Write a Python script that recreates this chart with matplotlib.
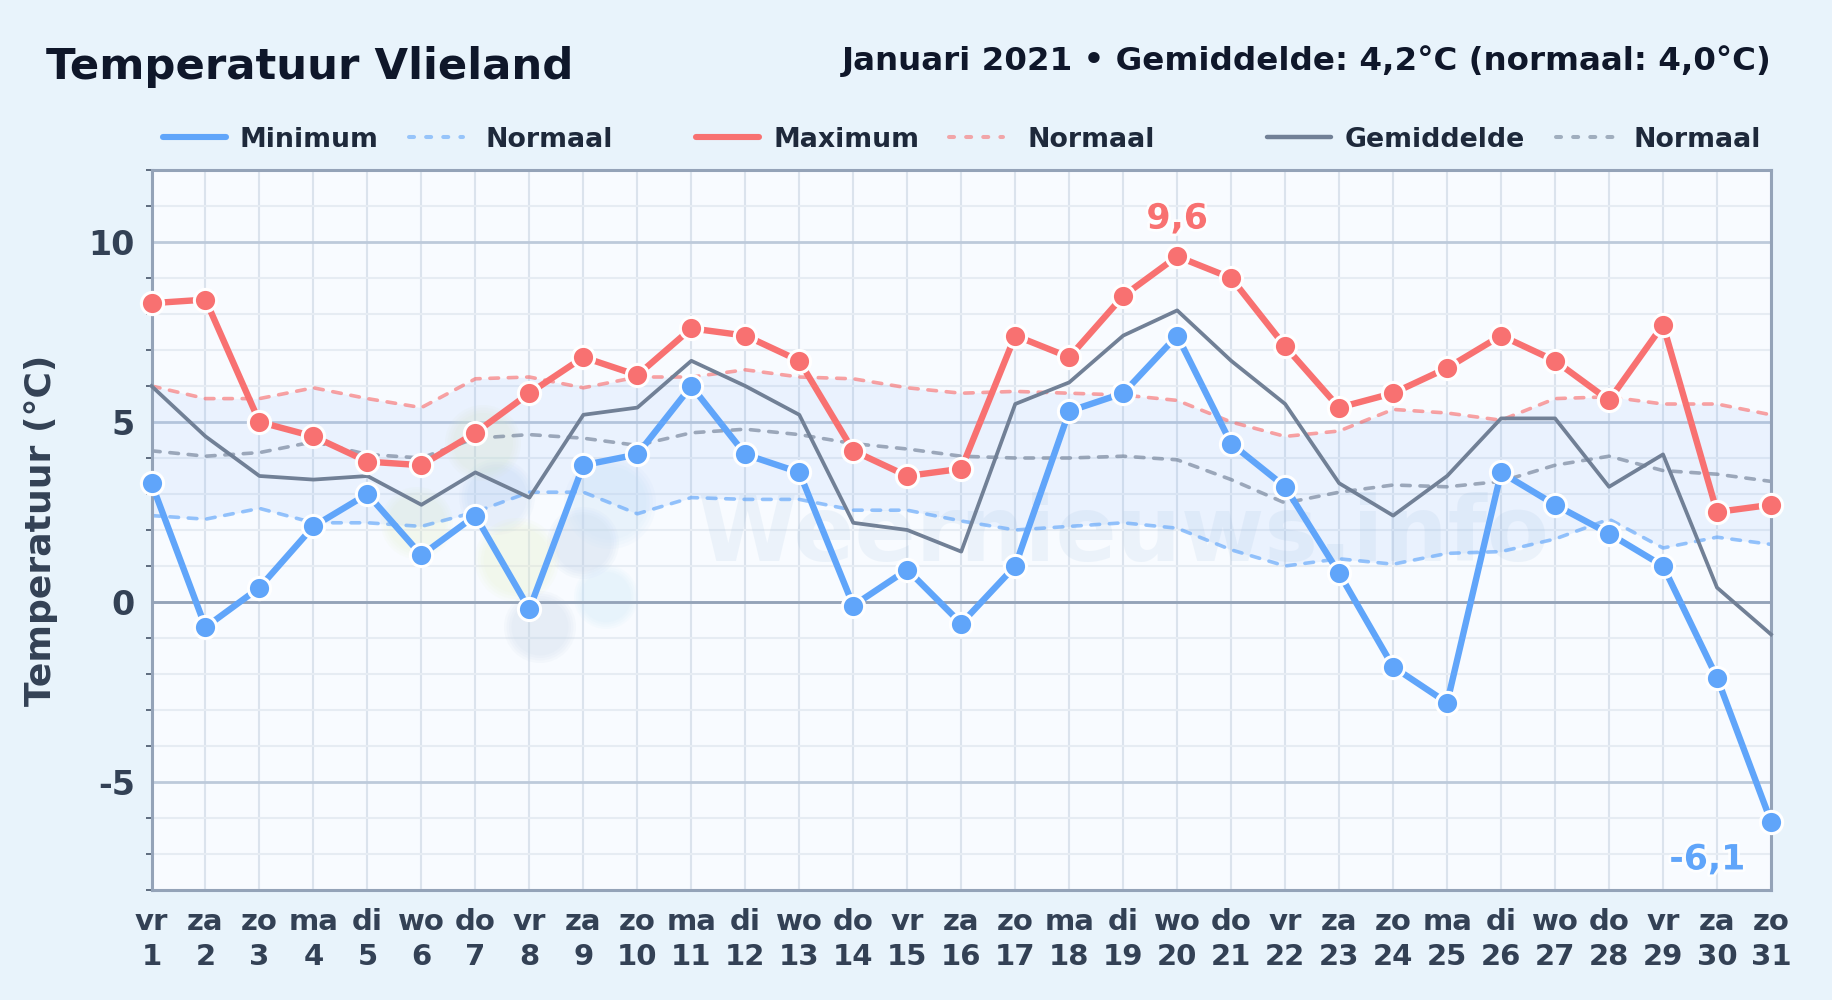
import matplotlib
matplotlib.use("Agg")
import matplotlib.pyplot as plt
from matplotlib.lines import Line2D
from matplotlib.patches import Ellipse
from matplotlib.ticker import FixedLocator
import matplotlib.patheffects as pe

days = list(range(1, 32))
weekdays = ["vr","za","zo","ma","di","wo","do","vr","za","zo","ma","di","wo","do","vr","za","zo","ma","di","wo","do","vr","za","zo","ma","di","wo","do","vr","za","zo"]
t_min = [3.3,-0.7,0.4,2.1,3.0,1.3,2.4,-0.2,3.8,4.1,6.0,4.1,3.6,-0.1,0.9,-0.6,1.0,5.3,5.8,7.4,4.4,3.2,0.8,-1.8,-2.8,3.6,2.7,1.9,1.0,-2.1,-6.1]
t_max = [8.3,8.4,5.0,4.6,3.9,3.8,4.7,5.8,6.8,6.3,7.6,7.4,6.7,4.2,3.5,3.7,7.4,6.8,8.5,9.6,9.0,7.1,5.4,5.8,6.5,7.4,6.7,5.6,7.7,2.5,2.7]
t_mean = [6.0,4.6,3.5,3.4,3.5,2.7,3.6,2.9,5.2,5.4,6.7,6.0,5.2,2.2,2.0,1.4,5.5,6.1,7.4,8.1,6.7,5.5,3.3,2.4,3.5,5.1,5.1,3.2,4.1,0.4,-0.9]
norm_min = [2.4,2.3,2.6,2.2,2.2,2.1,2.5,3.05,3.05,2.45,2.9,2.85,2.85,2.55,2.55,2.25,2.0,2.1,2.2,2.05,1.45,1.0,1.2,1.05,1.35,1.4,1.75,2.3,1.5,1.8,1.6]
norm_max = [6.0,5.65,5.65,5.95,5.65,5.4,6.2,6.25,5.95,6.25,6.25,6.45,6.25,6.2,5.95,5.8,5.85,5.8,5.75,5.6,5.0,4.6,4.75,5.35,5.25,5.05,5.65,5.7,5.5,5.5,5.2]
norm_mean = [4.2,4.05,4.15,4.45,4.1,4.0,4.55,4.65,4.55,4.35,4.7,4.8,4.65,4.4,4.25,4.05,4.0,4.0,4.05,3.95,3.4,2.75,3.05,3.25,3.2,3.35,3.8,4.05,3.65,3.55,3.35]
y_major = [-5, 0, 5, 10]
y_minor = [v for v in range(-8, 13) if v % 5 != 0]

BLUE, RED, SLATE = "#60a5fa", "#f87171", "#718096"
W, H = 1832, 1000
plt.rcParams["font.family"] = "DejaVu Sans"
plt.rcParams["font.weight"] = "bold"
plt.rcParams["axes.labelweight"] = "bold"

AL, AR, AT, AB = 151.5, 1771.0, 170.0, 890.0
fig = plt.figure(figsize=(W/100, H/100), dpi=100, facecolor="#e8f3fb")
ax = fig.add_axes([AL/W, 1-AB/H, (AR-AL)/W, (AB-AT)/H], facecolor="#f8fbff")
ax.set_xlim(1, 31)
ax.set_ylim(-8, 12)

# grid
ax.set_xticks(days)
ax.set_xticklabels([f"{d}\n{n}" for d, n in zip(weekdays, days)], fontsize=21, color="#334155", linespacing=1.33)
ax.yaxis.set_major_locator(FixedLocator(y_major))
ax.yaxis.set_minor_locator(FixedLocator(y_minor))
ax.set_yticklabels([str(v) for v in y_major], fontsize=24, color="#334155")
ax.tick_params(axis="x", length=0, pad=13)
ax.tick_params(axis="y", which="major", length=0, pad=12)
ax.tick_params(axis="y", which="minor", length=4, width=1.2, color="#475569")
ax.grid(True, axis="x", color="#dbe3ed", lw=1.5, zorder=0)
ax.grid(True, axis="y", which="minor", color="#e6ecf3", lw=1.5, zorder=0)
ax.grid(True, axis="y", which="major", color="#bdcadb", lw=2.0, zorder=0)
ax.set_axisbelow(True)
ax.axhline(0, color="#94a3b8", lw=2.0, zorder=1)
for s in ax.spines.values():
    s.set_color("#94a3b8")
    s.set_linewidth(2.2)
ax.set_ylabel("Temperatuur (°C)", fontsize=26, color="#334155", labelpad=0)
ax.yaxis.set_label_coords(-0.058, 0.5)

# watermark: soft blobs in reference pixels (x, y, radius, colour)
blobs = [(540,627,36,"#c4d4e6"),(583,543,36,"#bccfe6"),(606,597,32,"#c9e6fb"),(610,503,46,"#cbe2fa"),
         (497,497,38,"#c4d9f2"),(483,443,38,"#e2edcb"),(517,560,42,"#e8f1c8"),(417,523,36,"#e8f1d0")]
for bx, by, br, bc in blobs:
    fx = (bx-AL)/(AR-AL); fy = (AB-by)/(AB-AT)
    for k in (1.0, 0.93, 0.86, 0.79):
        ax.add_patch(Ellipse((fx, fy), 2*k*br/(AR-AL), 2*k*br/(AB-AT), transform=ax.transAxes,
                             fc=bc, ec="none", alpha=0.09, zorder=0.6))
ax.text(0.600, 0.492, "Weernieuws.info", transform=ax.transAxes, ha="center", va="center",
        fontsize=65, color="#93b8dc", alpha=0.12, zorder=0.7, fontweight="bold")

# normal band and series
ax.fill_between(days, norm_min, norm_max, color="#3b82f6", alpha=0.07, lw=0, zorder=1)
dash = (0, (2.4, 2.7))
nk = dict(alpha=0.65, lw=2.6, ls=dash, dash_capstyle="round", zorder=2)
ax.plot(days, norm_min, color=BLUE, **nk)
ax.plot(days, norm_max, color=RED, **nk)
ax.plot(days, norm_mean, color=SLATE, **nk)
ax.plot(days, t_mean, color=SLATE, lw=2.7, zorder=3, clip_on=False)
mk = dict(marker="o", ms=16, mec="white", mew=2.2, clip_on=False, solid_joinstyle="round")
ax.plot(days, t_max, color=RED, lw=4.6, zorder=4, **mk)
ax.plot(days, t_min, color=BLUE, lw=4.6, zorder=5, **mk)

# extreme labels
halo = [pe.withStroke(linewidth=4, foreground="white", alpha=0.8)]
imax = t_max.index(max(t_max)); imin = t_min.index(min(t_min))
ax.annotate(f"{t_max[imax]:.1f}".replace(".", ","), (days[imax], t_max[imax]), xytext=(0, 15), textcoords="offset points",
            ha="center", va="bottom", fontsize=25, color=RED, path_effects=halo, zorder=6)
ax.annotate(f"{t_min[imin]:.1f}".replace(".", ","), (days[imin-1], t_min[imin]), xytext=(-7, -15), textcoords="offset points",
            ha="center", va="top", fontsize=25, color=BLUE, path_effects=halo, zorder=6)

# title
fig.text(46/W, 1-79/H, "Temperatuur Vlieland", fontsize=31.2, color="#0f172a", ha="left", va="baseline")
fig.text(1772/W, 1-70/H, "Januari 2021 • Gemiddelde: 4,2°C (normaal: 4,0°C)", fontsize=23.4, color="#0f172a", ha="right", va="baseline")

# legend
LY = 137
ldash = (0, (1.25, 3.0))
entries = [(163,226,240,"Minimum",BLUE,4.4,"-",1.0),(409,463,485,"Normaal",BLUE,2.9,ldash,0.6),
           (696,759,773,"Maximum",RED,4.4,"-",1.0),(949,1003,1027,"Normaal",RED,2.9,ldash,0.6),
           (1267,1331,1345,"Gemiddelde",SLATE,3.2,"-",1.0),(1556,1616,1634,"Normaal",SLATE,2.9,ldash,0.6)]
for x0, x1, tx, lab, c, lw, ls, a in entries:
    fig.add_artist(Line2D([x0/W, x1/W], [1-LY/H]*2, color=c, lw=lw, ls=ls, alpha=a, transform=fig.transFigure,
                          solid_capstyle="round" if ls == "-" else "butt", dash_capstyle="round"))
    fig.text(tx/W, 1-LY/H, lab, fontsize=19.3, color="#1e293b", ha="left", va="center_baseline")

fig.savefig("out.png", dpi=100, facecolor=fig.get_facecolor())
